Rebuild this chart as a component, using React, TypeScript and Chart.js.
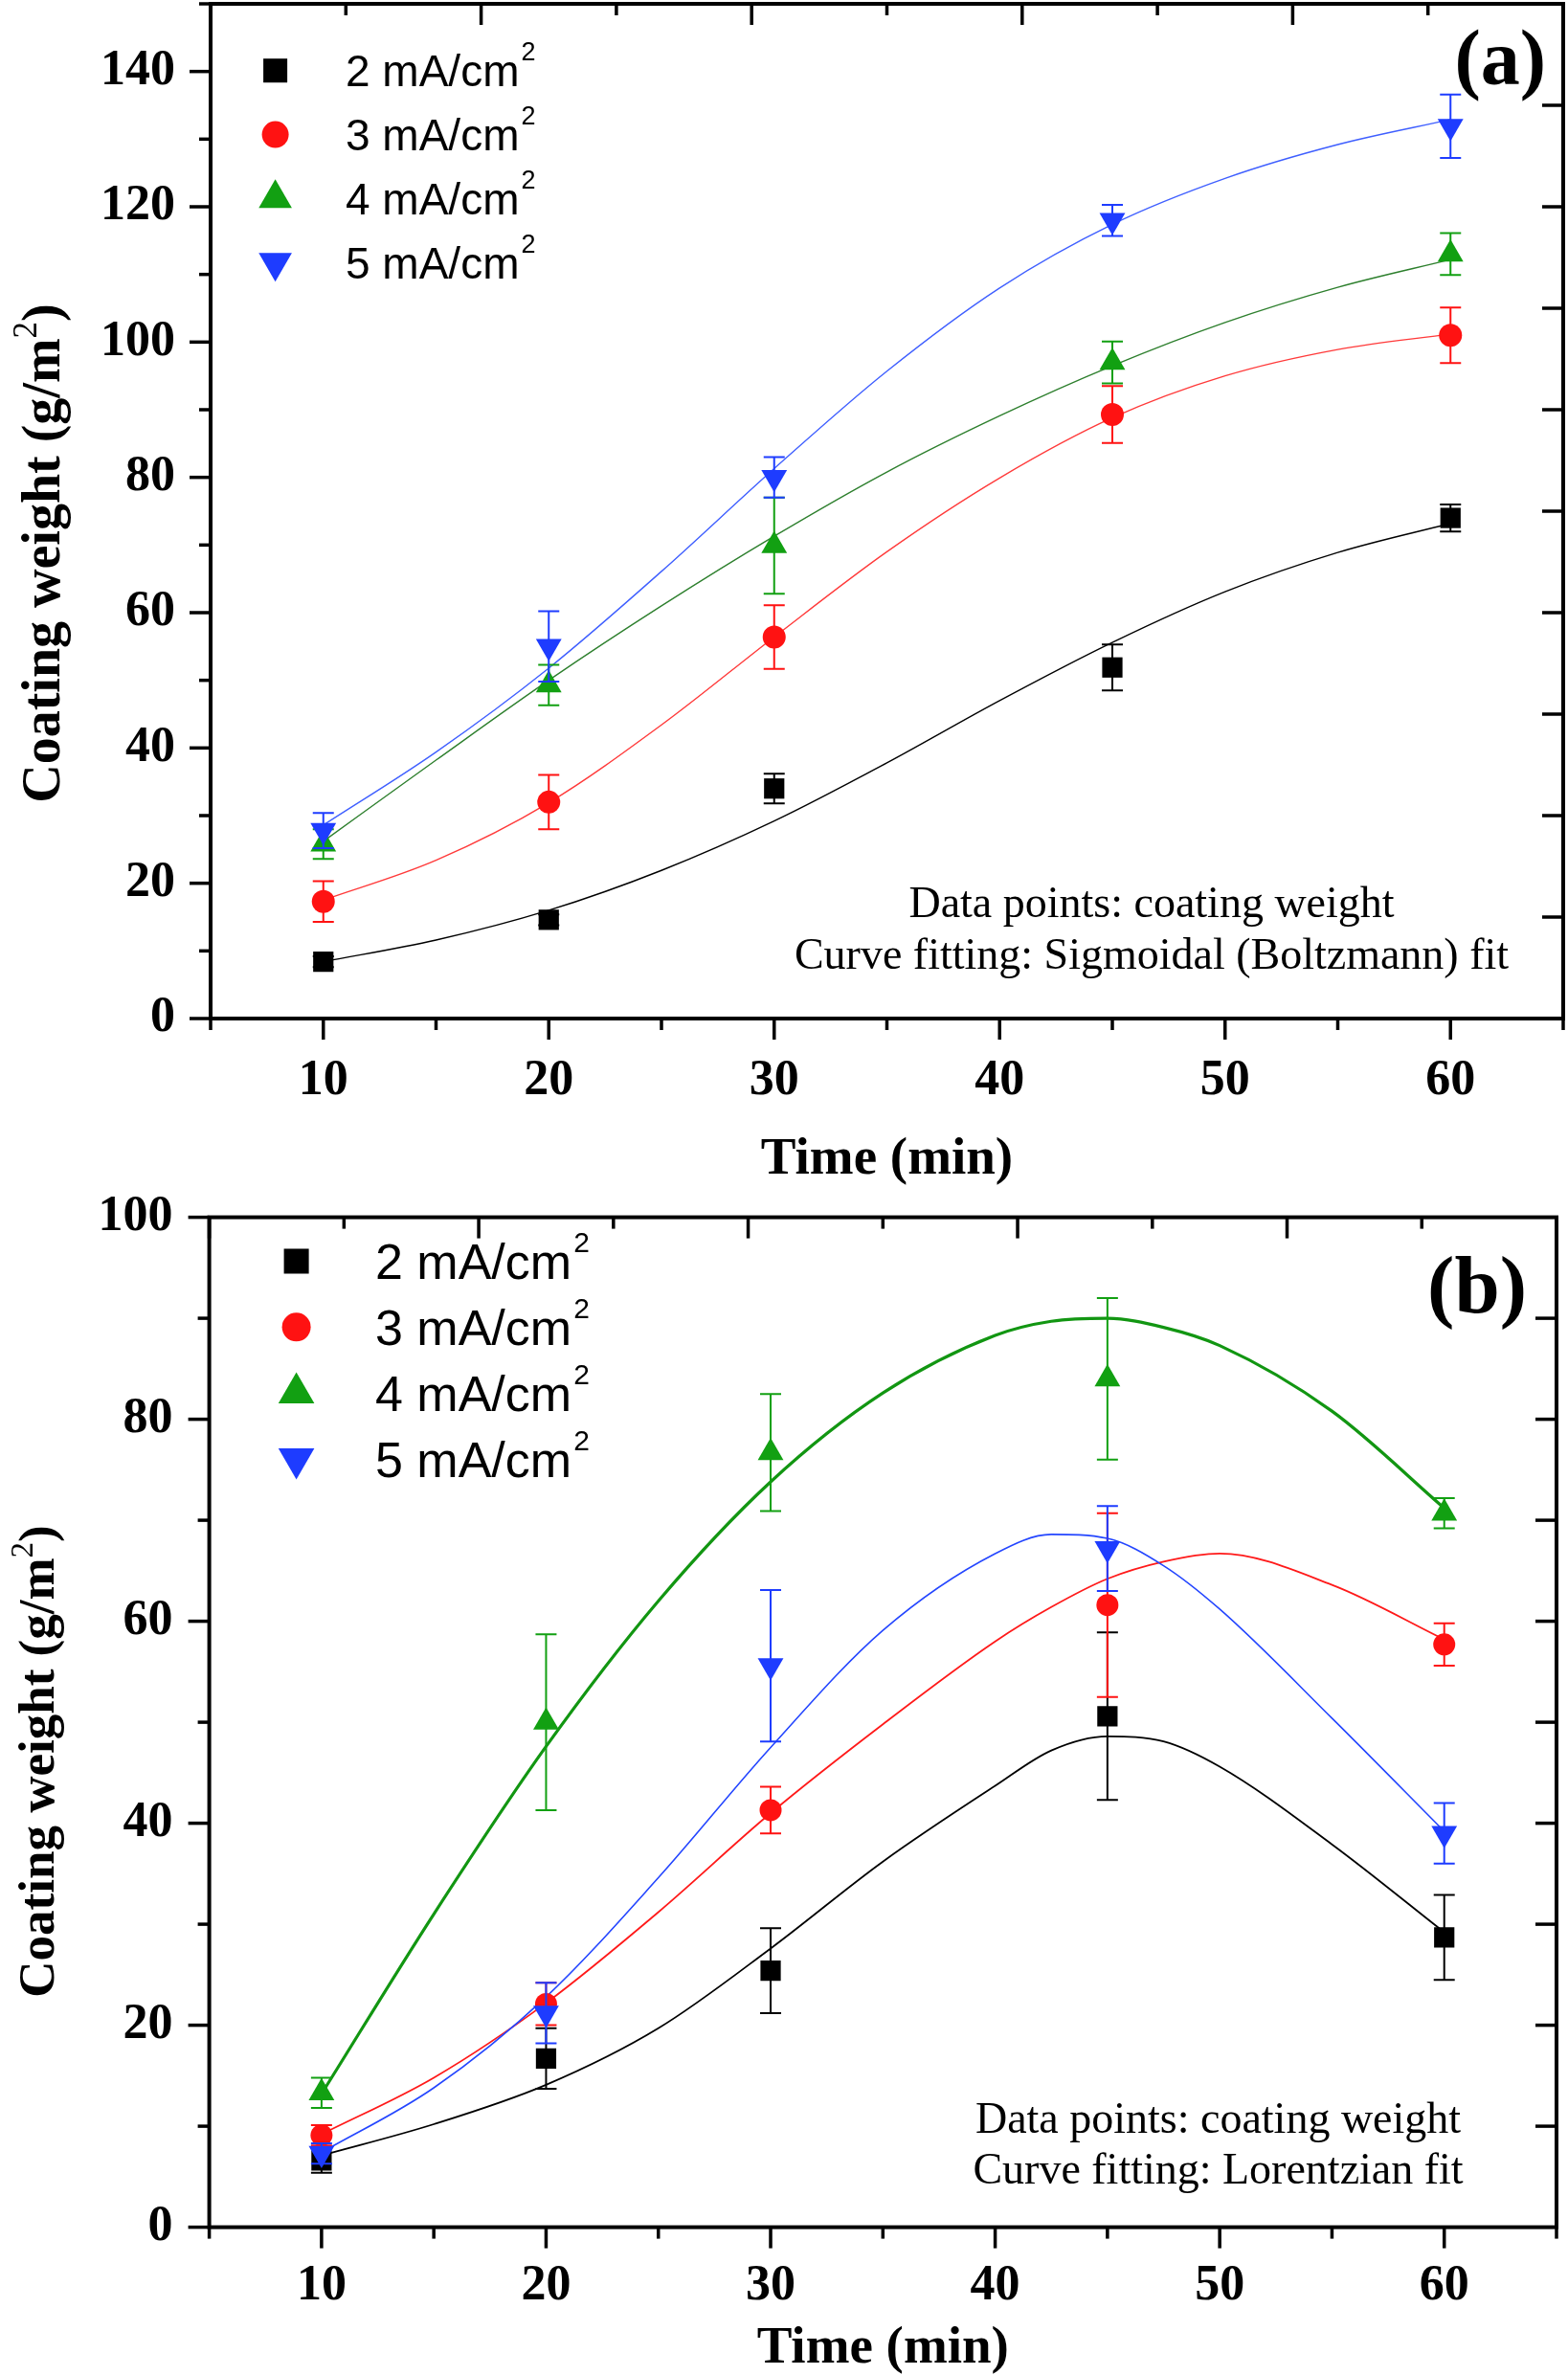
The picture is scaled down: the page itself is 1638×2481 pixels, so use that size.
import React, { useEffect, useRef } from 'react';
import { Chart, registerables } from 'chart.js';

Chart.register(...registerables);

// ---------------- shared data ----------------
const TIME_MIN = [10, 20, 30, 45, 60];
const LEGEND_LABELS = ['2 mA/cm', '3 mA/cm', '4 mA/cm', '5 mA/cm'];
const X_LABEL_TICKS = [10, 20, 30, 40, 50, 60];
const X_MINOR_TICKS = [5, 15, 25, 35, 45, 55, 65];
const TOP_MAJOR_TICKS = [5, 17, 29, 41, 53, 65];
const TOP_MINOR_TICKS = [11, 23, 35, 47, 59];

// ---------------- panel (a): Sigmoidal (Boltzmann) ----------------
const A_Y_LABEL_TICKS = [0, 20, 40, 60, 80, 100, 120, 140];
const A_Y_MINOR_TICKS = [10, 30, 50, 70, 90, 110, 130, 150];
const A_RIGHT_TICKS = [15, 30, 45, 60, 75, 90, 105, 120, 135];

const A_2MA = [8.4, 14.6, 34.0, 51.9, 74.0];
const A_2MA_ERR = [0.8, 0.8, 2.2, 3.4, 2.0];
const A_3MA = [17.3, 32.0, 56.4, 89.3, 101.0];
const A_3MA_ERR = [3.0, 4.0, 4.7, 4.2, 4.1];
const A_4MA = [25.8, 49.3, 69.9, 97.0, 113.0];
const A_4MA_ERR = [2.2, 3.0, 7.1, 3.1, 3.1];
const A_5MA = [27.8, 55.0, 80.0, 118.0, 131.9];
const A_5MA_ERR = [2.6, 5.2, 3.0, 2.3, 4.7];

const A_FIT_TIME = [10, 15, 20, 25, 30, 35, 40, 45, 50, 55, 60];
const A_2MA_FIT = [8.4, 11.6, 16.0, 21.9, 29.2, 37.8, 47.0, 55.6, 63.1, 68.9, 73.2];
const A_3MA_FIT = [17.5, 23.4, 31.9, 43.4, 56.4, 69.0, 79.9, 88.8, 95.0, 98.9, 101.2];
const A_4MA_FIT = [26.2, 38.2, 50.0, 61.0, 71.3, 80.8, 89.1, 96.5, 102.9, 108.1, 112.2];
const A_5MA_FIT = [28.6, 39.4, 51.8, 66.1, 81.3, 95.7, 108.0, 117.4, 124.2, 129.2, 132.9];

// ---------------- panel (b): Lorentzian ----------------
const B_Y_LABEL_TICKS = [0, 20, 40, 60, 80, 100];
const B_Y_MINOR_TICKS = [10, 30, 50, 70, 90];
const B_RIGHT_TICKS = [10, 20, 30, 40, 50, 60, 70, 80, 90];

const B_2MA = [6.6, 16.7, 25.4, 50.6, 28.7];
const B_2MA_ERR = [1.2, 3.0, 4.2, 8.3, 4.2];
const B_3MA = [9.1, 22.1, 41.3, 61.6, 57.7];
const B_3MA_ERR = [1.0, 2.1, 2.3, 9.1, 2.1];
const B_4MA = [13.3, 50.0, 76.7, 84.0, 70.7];
const B_4MA_ERR = [1.5, 8.7, 5.8, 8.0, 1.5];
const B_5MA = [7.3, 21.2, 55.6, 67.2, 39.0];
const B_5MA_ERR = [1.0, 3.0, 7.5, 4.2, 3.0];

const B_FIT_TIME = [10, 15, 20, 25, 30, 35, 40, 42.5, 45, 47.5, 50, 55, 60];
const B_2MA_FIT = [7.1, 10.2, 14.1, 19.7, 27.6, 36.2, 43.7, 47.2, 48.6, 48.1, 45.6, 37.9, 29.2];
const B_3MA_FIT = [9.2, 14.8, 22.2, 31.2, 41.0, 49.8, 58.0, 61.4, 64.2, 65.9, 66.7, 63.6, 58.2];
const B_4MA_FIT = [13.2, 31.0, 47.6, 62.0, 73.8, 82.6, 88.3, 89.7, 90.0, 89.1, 87.3, 80.8, 71.2];
const B_5MA_FIT = [7.4, 13.8, 22.8, 34.6, 47.5, 59.1, 66.7, 68.6, 68.2, 65.5, 61.2, 50.4, 39.2];

// ---------------- styling ----------------
const MARK_STYLES = ['rect', 'circle', 'triangle', 'triangle'];
const MARK_ROT = [0, 0, 0, 180];
const MARK_COLORS = ['#000000', '#ff1212', '#12a012', '#1e3cff'];
const SERIF = '"Liberation Serif", "Times New Roman", serif';
const SANS = '"Liberation Sans", Arial, sans-serif';

type Series = { values: number[]; errors: number[]; fit: number[] };
type Panel = {
  canvasH: number;
  yMax: number;
  yLabelTicks: number[];
  yMinorTicks: number[];
  rightTicks: number[];
  fitTime: number[];
  series: Series[];
  padTop: number;
  padRight: number;
  yAxisWidth: number;
  xAxisHeight: number;
  yTickPad: number;
  xTickPad: number;
  xTitlePadBottom: number;
  tickFont: number;
  xTitleFont: number;
  fitColors: string[];
  fitWidths: number[];
  markerR: number[];
  legend: { markerX: number; y0: number; dy: number; textX: number; font: number; supFont: number; supRaise: number; markerR: number[] };
  notes: string[];
  noteX: number;
  noteY: number[];
  noteFont: number;
  label: string;
  labelX: number;
  labelY: number;
  labelFont: number;
  yTitleX: number;
  yTitleY: number;
  yTitleFont: number;
};

function drawMarker(ctx: CanvasRenderingContext2D, style: string, rot: number, x: number, y: number, r: number, color: string) {
  ctx.fillStyle = color;
  ctx.beginPath();
  if (style === 'rect') {
    const h = r * Math.SQRT1_2;
    ctx.rect(x - h, y - h, 2 * h, 2 * h);
  } else if (style === 'circle') {
    ctx.arc(x, y, r, 0, Math.PI * 2);
  } else {
    const s = rot ? -1 : 1;
    const w = r * Math.sin(Math.PI / 3);
    ctx.moveTo(x, y - s * r);
    ctx.lineTo(x + w, y + (s * r) / 2);
    ctx.lineTo(x - w, y + (s * r) / 2);
    ctx.closePath();
  }
  ctx.fill();
}

function buildConfig(p: Panel): any {
  const datasets: any[] = [];
  p.series.forEach((s, i) => {
    datasets.push({
      label: LEGEND_LABELS[i],
      data: TIME_MIN.map((t, k) => ({ x: t, y: s.values[k] })),
      errors: s.errors,
      errColor: MARK_COLORS[i],
      showLine: false,
      pointStyle: MARK_STYLES[i],
      pointRotation: MARK_ROT[i],
      pointRadius: p.markerR[i],
      pointBackgroundColor: MARK_COLORS[i],
      pointBorderColor: MARK_COLORS[i],
      pointBorderWidth: 0,
      order: 1.4 - i * 0.1,
    });
  });
  p.series.forEach((s, i) => {
    datasets.push({
      label: LEGEND_LABELS[i] + ' fit',
      data: p.fitTime.map((t, k) => ({ x: t, y: s.fit[k] })),
      showLine: true,
      pointRadius: 0,
      borderColor: p.fitColors[i],
      borderWidth: p.fitWidths[i],
      cubicInterpolationMode: 'monotone',
      fill: false,
      order: 2.4 - i * 0.1,
    });
  });

  const decor = {
    id: 'panelDecor',
    beforeDatasetDraw(chart: any, args: any) {
      const ds = chart.data.datasets[args.index];
      if (!ds.errors) return;
      const ctx = chart.ctx as CanvasRenderingContext2D;
      const ys = chart.scales.y;
      ctx.save();
      ctx.strokeStyle = ds.errColor;
      ctx.lineWidth = 2;
      args.meta.data.forEach((pt: any, k: number) => {
        const v = ds.data[k].y;
        const e = ds.errors[k];
        const yt = ys.getPixelForValue(v + e);
        const yb = ys.getPixelForValue(v - e);
        ctx.beginPath();
        ctx.moveTo(pt.x, yt);
        ctx.lineTo(pt.x, yb);
        ctx.moveTo(pt.x - 11, yt);
        ctx.lineTo(pt.x + 11, yt);
        ctx.moveTo(pt.x - 11, yb);
        ctx.lineTo(pt.x + 11, yb);
        ctx.stroke();
      });
      ctx.restore();
    },
    afterDraw(chart: any) {
      const ctx = chart.ctx as CanvasRenderingContext2D;
      const { left, right, top, bottom } = chart.chartArea;
      const xs = chart.scales.x;
      const ys = chart.scales.y;
      const MAJ = 22;
      const MIN = 12;
      ctx.save();
      ctx.strokeStyle = '#000';
      ctx.lineWidth = 3.5;
      const vt = (x: number, y1: number, y2: number) => {
        ctx.beginPath();
        ctx.moveTo(x, y1);
        ctx.lineTo(x, y2);
        ctx.stroke();
      };
      const ht = (y: number, x1: number, x2: number) => {
        ctx.beginPath();
        ctx.moveTo(x1, y);
        ctx.lineTo(x2, y);
        ctx.stroke();
      };
      X_LABEL_TICKS.forEach((v) => vt(xs.getPixelForValue(v), bottom, bottom + MAJ));
      X_MINOR_TICKS.forEach((v) => vt(xs.getPixelForValue(v), bottom, bottom + MIN));
      TOP_MAJOR_TICKS.forEach((v) => vt(xs.getPixelForValue(v), top, top + MAJ));
      TOP_MINOR_TICKS.forEach((v) => vt(xs.getPixelForValue(v), top, top + MIN));
      p.yLabelTicks.forEach((v) => ht(ys.getPixelForValue(v), left - MAJ, left));
      p.yMinorTicks.forEach((v) => ht(ys.getPixelForValue(v), left - MIN, left));
      p.rightTicks.forEach((v) => ht(ys.getPixelForValue(v), right - MAJ, right));
      ctx.lineWidth = 4;
      ctx.lineJoin = 'miter';
      ctx.strokeRect(left, top, right - left, bottom - top);

      // legend
      const L = p.legend;
      ctx.textAlign = 'left';
      ctx.textBaseline = 'alphabetic';
      LEGEND_LABELS.forEach((lab, i) => {
        const base = L.y0 + i * L.dy;
        const cy = base - (0.716 * L.font) / 2;
        drawMarker(ctx, MARK_STYLES[i], MARK_ROT[i], L.markerX, cy, L.markerR[i], MARK_COLORS[i]);
        ctx.fillStyle = '#000';
        ctx.font = `${L.font}px ${SANS}`;
        ctx.fillText(lab, L.textX, base);
        const w = ctx.measureText(lab).width;
        ctx.font = `${L.supFont}px ${SANS}`;
        ctx.fillText('2', L.textX + w + 2, base - L.supRaise);
      });

      // notes
      ctx.fillStyle = '#000';
      ctx.textAlign = 'center';
      ctx.font = `${p.noteFont}px ${SERIF}`;
      p.notes.forEach((t, i) => ctx.fillText(t, p.noteX, p.noteY[i]));

      // panel label
      ctx.textAlign = 'right';
      ctx.font = `bold ${p.labelFont}px ${SERIF}`;
      ctx.fillText(p.label, p.labelX, p.labelY);

      // y title with superscript
      ctx.save();
      ctx.translate(p.yTitleX, p.yTitleY);
      ctx.rotate(-Math.PI / 2);
      ctx.textAlign = 'left';
      const mainF = `bold ${p.yTitleFont}px ${SERIF}`;
      const supF = `${Math.round(p.yTitleFont * 0.62)}px ${SERIF}`;
      const p1 = 'Coating weight (g/m';
      const p2 = '2';
      const p3 = ')';
      ctx.font = mainF;
      const w1 = ctx.measureText(p1).width;
      const w3 = ctx.measureText(p3).width;
      ctx.font = supF;
      const w2 = ctx.measureText(p2).width;
      let x = -(w1 + w2 + w3) / 2;
      ctx.font = mainF;
      ctx.fillText(p1, x, 0);
      x += w1;
      ctx.font = supF;
      ctx.fillText(p2, x, -p.yTitleFont * 0.42);
      x += w2;
      ctx.font = mainF;
      ctx.fillText(p3, x, 0);
      ctx.restore();

      ctx.restore();
    },
  };

  return {
    type: 'scatter',
    data: { datasets },
    plugins: [decor],
    options: {
      animation: false,
      responsive: false,
      devicePixelRatio: 1,
      events: [],
      layout: { autoPadding: false, padding: { top: p.padTop, right: p.padRight, left: 0, bottom: 0 } },
      plugins: { legend: { display: false }, tooltip: { enabled: false }, title: { display: false } },
      scales: {
        x: {
          type: 'linear',
          position: 'bottom',
          min: 5,
          max: 65,
          afterBuildTicks: (sc: any) => {
            sc.ticks = X_LABEL_TICKS.map((v) => ({ value: v }));
          },
          afterFit: (sc: any) => {
            sc.height = p.xAxisHeight;
            sc.paddingLeft = 0;
            sc.paddingRight = 0;
          },
          grid: { display: false, drawTicks: false, tickLength: 0 },
          border: { display: false },
          ticks: {
            font: { family: SERIF, weight: 'bold', size: p.tickFont },
            color: '#000',
            padding: p.xTickPad,
            maxRotation: 0,
            autoSkip: false,
          },
          title: {
            display: true,
            text: 'Time (min)',
            color: '#000',
            font: { family: SERIF, weight: 'bold', size: p.xTitleFont, lineHeight: 1 },
            padding: { top: 0, bottom: p.xTitlePadBottom },
          },
        },
        y: {
          type: 'linear',
          position: 'left',
          min: 0,
          max: p.yMax,
          afterBuildTicks: (sc: any) => {
            sc.ticks = p.yLabelTicks.map((v) => ({ value: v }));
          },
          afterFit: (sc: any) => {
            sc.width = p.yAxisWidth;
            sc.paddingTop = 0;
            sc.paddingBottom = 0;
          },
          grid: { display: false, drawTicks: false, tickLength: 0 },
          border: { display: false },
          ticks: {
            font: { family: SERIF, weight: 'bold', size: p.tickFont },
            color: '#000',
            padding: p.yTickPad,
            autoSkip: false,
          },
        },
      },
    },
  };
}

const PANEL_A: Panel = {
  canvasH: 1245,
  yMax: 150,
  yLabelTicks: A_Y_LABEL_TICKS,
  yMinorTicks: A_Y_MINOR_TICKS,
  rightTicks: A_RIGHT_TICKS,
  fitTime: A_FIT_TIME,
  series: [
    { values: A_2MA, errors: A_2MA_ERR, fit: A_2MA_FIT },
    { values: A_3MA, errors: A_3MA_ERR, fit: A_3MA_FIT },
    { values: A_4MA, errors: A_4MA_ERR, fit: A_4MA_FIT },
    { values: A_5MA, errors: A_5MA_ERR, fit: A_5MA_FIT },
  ],
  padTop: 4,
  padRight: 5,
  yAxisWidth: 220,
  xAxisHeight: 181,
  yTickPad: 37,
  xTickPad: 34,
  xTitlePadBottom: 6,
  tickFont: 52,
  xTitleFont: 55,
  fitColors: ['#000000', '#ff3a3a', '#2d7f2d', '#3f5fff'],
  fitWidths: [1.4, 1.4, 1.4, 1.4],
  markerR: [15, 12, 15.5, 15.5],
  legend: { markerX: 287.6, y0: 90.2, dy: 66.8, textX: 361, font: 46, supFont: 27, supRaise: 27, markerR: [17.7, 14, 20, 20] },
  notes: ['Data points: coating weight', 'Curve fitting: Sigmoidal (Boltzmann) fit'],
  noteX: 1203,
  noteY: [958, 1011.5],
  noteFont: 46,
  label: '(a)',
  labelX: 1615,
  labelY: 88,
  labelFont: 82,
  yTitleX: 62,
  yTitleY: 578,
  yTitleFont: 56,
};

const PANEL_B: Panel = {
  canvasH: 1236,
  yMax: 100,
  yLabelTicks: B_Y_LABEL_TICKS,
  yMinorTicks: B_Y_MINOR_TICKS,
  rightTicks: B_RIGHT_TICKS,
  fitTime: B_FIT_TIME,
  series: [
    { values: B_2MA, errors: B_2MA_ERR, fit: B_2MA_FIT },
    { values: B_3MA, errors: B_3MA_ERR, fit: B_3MA_FIT },
    { values: B_4MA, errors: B_4MA_ERR, fit: B_4MA_FIT },
    { values: B_5MA, errors: B_5MA_ERR, fit: B_5MA_FIT },
  ],
  padTop: 26.6,
  padRight: 12,
  yAxisWidth: 218.6,
  xAxisHeight: 154.4,
  yTickPad: 38,
  xTickPad: 31,
  xTitlePadBottom: 0,
  tickFont: 52,
  xTitleFont: 55,
  fitColors: ['#000000', '#ff1a1a', '#129612', '#2446ff'],
  fitWidths: [1.8, 1.8, 3.2, 1.6],
  markerR: [15, 11.5, 15.5, 15.5],
  legend: { markerX: 309.6, y0: 91.1, dy: 68.8, textX: 392, font: 52, supFont: 30, supRaise: 28, markerR: [18.4, 15, 21.7, 21.7] },
  notes: ['Data points: coating weight', 'Curve fitting: Lorentzian fit'],
  noteX: 1272.5,
  noteY: [982.7, 1036],
  noteFont: 46,
  label: '(b)',
  labelX: 1595,
  labelY: 126,
  labelFont: 85,
  yTitleX: 56,
  yTitleY: 595,
  yTitleFont: 53,
};

function PanelChart({ spec, top }: { spec: Panel; top: number }) {
  const ref = useRef<HTMLCanvasElement>(null);
  useEffect(() => {
    const c = ref.current;
    if (!c) return;
    const chart = new Chart(c, buildConfig(spec));
    return () => chart.destroy();
  }, [spec]);
  return (
    <canvas
      ref={ref}
      width={1638}
      height={spec.canvasH}
      style={{ position: 'absolute', left: 0, top, width: 1638, height: spec.canvasH, display: 'block' }}
    />
  );
}

export default function App() {
  return (
    <div style={{ position: 'absolute', left: 0, top: 0, width: 1638, height: 2481, background: '#fff', overflow: 'hidden' }}>
      <PanelChart spec={PANEL_A} top={0} />
      <PanelChart spec={PANEL_B} top={1245} />
    </div>
  );
}
